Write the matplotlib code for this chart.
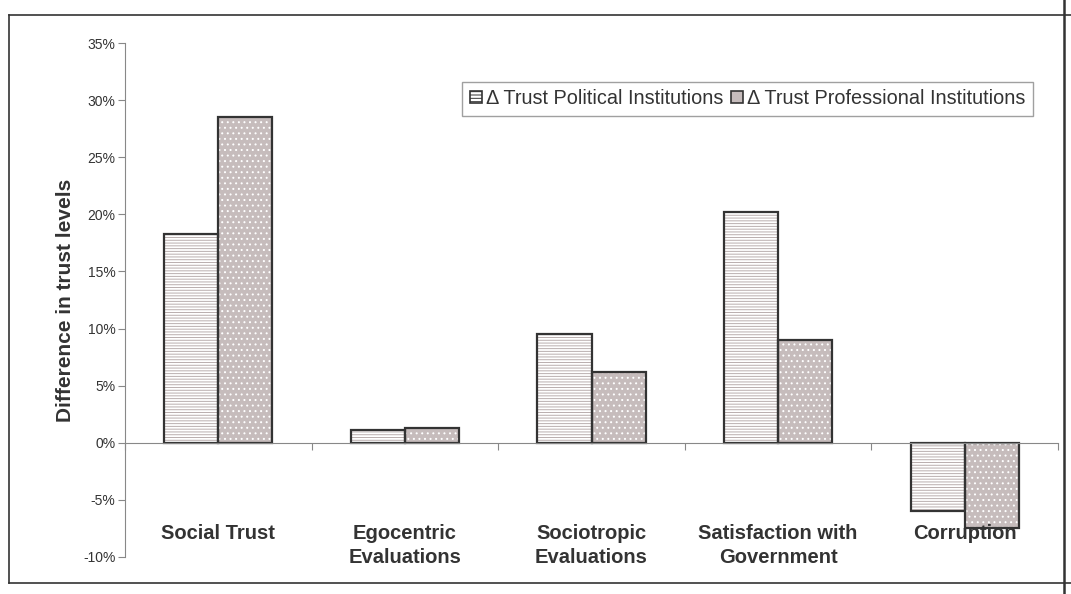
import matplotlib.pyplot as plt
import matplotlib.transforms as mtransforms
import numpy as np
from matplotlib.lines import Line2D
from matplotlib.patches import Patch

categories = ["Social Trust", "Egocentric\nEvaluations", "Sociotropic\nEvaluations",
              "Satisfaction with\nGovernment", "Corruption"]
political = [18.3, 1.1, 9.5, 20.2, -6.0]
professional = [28.5, 1.3, 6.2, 9.0, -7.5]
series_names = ["Δ Trust Political Institutions", "Δ Trust Professional Institutions"]
yticks = [-10, -5, 0, 5, 10, 15, 20, 25, 30, 35]

plt.rcParams['font.family'] = ['Liberation Sans', 'DejaVu Sans']
plt.rcParams['hatch.linewidth'] = 0.7

fig = plt.figure(figsize=(10.71, 5.94), dpi=100)
ax = fig.add_axes([0.1167, 0.0623, 0.8712, 0.8653])

x = np.arange(len(categories))
w = 0.29
edge = "#333333"
pol_hatch = "#b9aeae"
prof_face = "#c6bcbc"

# hatch fill first, then the dark outline on top
ax.bar(x - w / 2, political, w, color="white", edgecolor=pol_hatch, hatch="------", linewidth=0)
ax.bar(x + w / 2, professional, w, color=prof_face, edgecolor="white", hatch="...", linewidth=0)
ax.bar(x - w / 2, political, w, fill=False, edgecolor=edge, linewidth=1.6)
ax.bar(x + w / 2, professional, w, fill=False, edgecolor=edge, linewidth=1.6)

ax.set_xlim(-0.5, len(categories) - 0.5)
ax.set_ylim(-10, 35)
ax.set_yticks(yticks)
ax.set_yticklabels([f"{v}%" for v in yticks], fontsize=10, color="#333333")
ax.set_xticks(np.arange(len(categories) + 1) - 0.5)
ax.set_xticklabels([])
ax.tick_params(axis="y", direction="out", length=5, color="#888888", pad=2)
ax.tick_params(axis="x", direction="out", length=5, color="#888888")

for s in ["top", "right"]:
    ax.spines[s].set_visible(False)
ax.spines["left"].set_color("#888888")
ax.spines["bottom"].set_color("#888888")
ax.spines["bottom"].set_position(("data", 0))

trans = mtransforms.blended_transform_factory(ax.transData, ax.transAxes)
for i, c in enumerate(categories):
    ax.text(i, 0.064, c, transform=trans, ha="center", va="top", fontsize=14.5,
            fontweight="bold", color="#333333", linespacing=1.35)

ax.set_ylabel("Difference in trust levels", fontsize=15, fontweight="bold",
              color="#333333", labelpad=6)

handles = [Patch(facecolor="white", edgecolor=edge, hatch="-----", linewidth=1.2),
           Patch(facecolor=prof_face, edgecolor=edge, linewidth=1.2)]
leg = ax.legend(handles, series_names, ncol=2, loc="upper right",
                bbox_to_anchor=(0.973, 0.925), fontsize=14.3, frameon=True,
                fancybox=False, handlelength=0.6, handleheight=0.6,
                handletextpad=0.2, columnspacing=0.4, borderpad=0.38,
                borderaxespad=0)
leg.get_frame().set_edgecolor("#888888")
leg.get_frame().set_linewidth(1.0)
for t in leg.get_texts():
    t.set_color("#333333")

# outer frame around the chart
W, H = 1071, 594
def fx(px):
    return px / W
def fy(py):
    return 1 - py / H
frame = dict(color="#333333", linewidth=1.2, transform=fig.transFigure)
fig.add_artist(Line2D([fx(9), fx(9)], [fy(15), fy(583)], **frame))
fig.add_artist(Line2D([fx(9), 1], [fy(15), fy(15)], **frame))
fig.add_artist(Line2D([fx(9), 1], [fy(583), fy(583)], **frame))
fig.add_artist(Line2D([fx(1064), fx(1064)], [0, 1], linewidth=1.8, color="#333333",
                      transform=fig.transFigure))

fig.savefig("out.png", dpi=100)
